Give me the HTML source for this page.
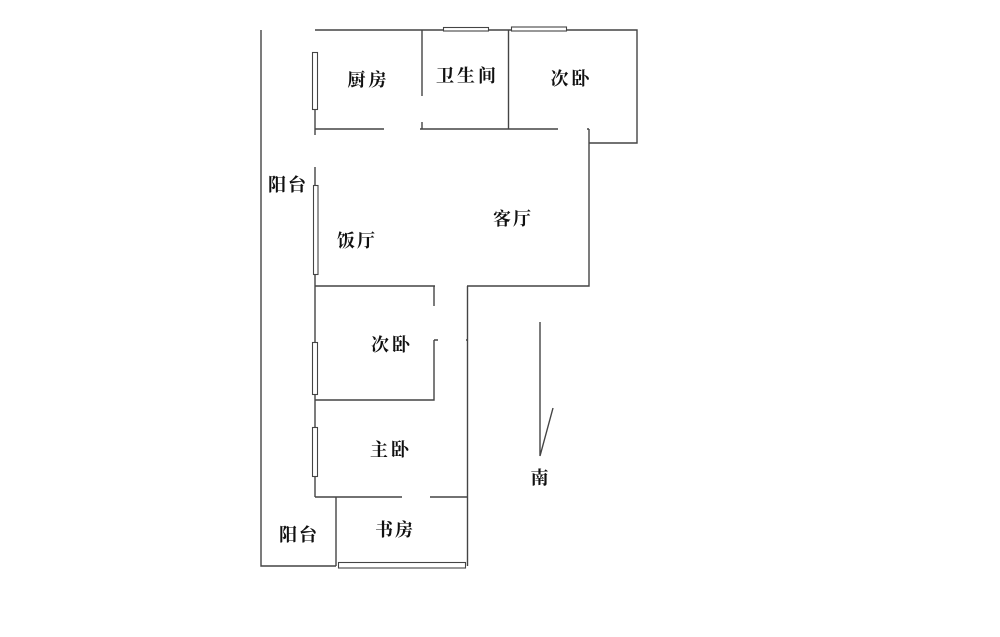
<!DOCTYPE html>
<html><head><meta charset="utf-8"><style>
html,body{margin:0;padding:0;background:#fff;width:1000px;height:637px;overflow:hidden}
svg{display:block}
text{font-family:"Liberation Serif","Noto Serif CJK SC",serif;font-size:18px;font-weight:700;fill:#111;text-anchor:middle;dominant-baseline:central}
</style></head><body>
<svg width="1000" height="637" viewBox="0 0 1000 637" xmlns="http://www.w3.org/2000/svg">
<g stroke="#444" stroke-width="1.4" fill="none">
<path d="M261 30V566H336"/>
<path d="M315 30H637V143H589"/>
<path d="M315 52V135"/>
<path d="M315 129H384M420 129H558M587 129H589"/>
<path d="M422 30V96M422 122V129"/>
<path d="M508.500 30V129"/>
<path d="M589 129V286H467"/>
<path d="M315 167V497"/>
<path d="M315 286H435"/>
<path d="M434 286V306M434 340V400H315"/>
<path d="M434 340H438M466 340H468"/>
<path d="M467.500 286V566"/>
<path d="M315 497H402M430 497H468"/>
<path d="M336 497V566"/>
<path d="M540 322V456L553 408"/>
</g>
<g stroke="#444" stroke-width="1.1" fill="#fff">
<rect x="443.500" y="27.500" width="45" height="3.500"/>
<rect x="511.500" y="27" width="55" height="4"/>
<rect x="312.500" y="52.500" width="5" height="57"/>
<rect x="313.500" y="185.500" width="4.500" height="89"/>
<rect x="312.500" y="342.500" width="5" height="52"/>
<rect x="312.500" y="427.500" width="5" height="49"/>
<rect x="338.500" y="562.500" width="127" height="5.500"/>
</g>
<text x="367" y="80" textLength="39" lengthAdjust="spacing">厨房</text>
<text x="466" y="76" textLength="60" lengthAdjust="spacing">卫生间</text>
<text x="570" y="79" textLength="39" lengthAdjust="spacing">次卧</text>
<text x="287" y="185" textLength="38" lengthAdjust="spacing">阳台</text>
<text x="356" y="241" textLength="38" lengthAdjust="spacing">饭厅</text>
<text x="512" y="219" textLength="38" lengthAdjust="spacing">客厅</text>
<text x="390.500" y="345" textLength="39" lengthAdjust="spacing">次卧</text>
<text x="389.500" y="450" textLength="39" lengthAdjust="spacing">主卧</text>
<text x="394" y="530" textLength="38" lengthAdjust="spacing">书房</text>
<text x="298" y="535" textLength="38" lengthAdjust="spacing">阳台</text>
<text x="539.500" y="478">南</text>
</svg>
</body></html>
